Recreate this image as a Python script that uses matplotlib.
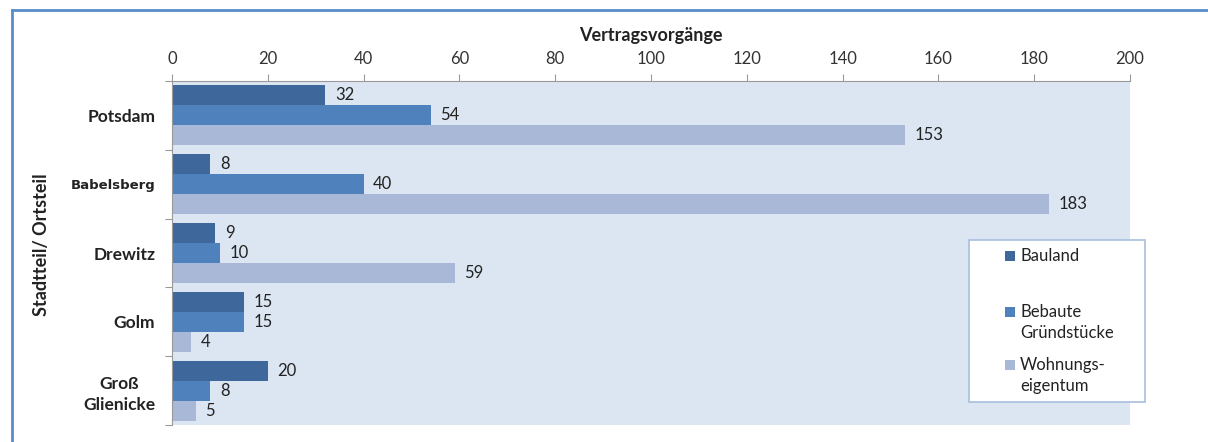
import numpy as np
import matplotlib
matplotlib.use('Agg')
import matplotlib.pyplot as plt
from matplotlib.lines import Line2D
from matplotlib.patches import Rectangle

# --- data ---
districts = ["Potsdam", "Babelsberg", "Drewitz", "Golm", "Groß\nGlienicke"]
bauland = [32, 8, 9, 15, 20]
bebaute = [54, 40, 10, 15, 8]
wohnung = [153, 183, 59, 4, 5]
series_names = ["Bauland", "Bebaute\nGründstücke", "Wohnungs-\neigentum"]
x_ticks = list(range(0, 201, 20))

colors = ['#3e689c', '#4f81bd', '#a9b8d6']
plt.rcParams['font.family'] = ['Lato', 'DejaVu Sans']

W, H = 1208, 442
fig = plt.figure(figsize=(W / 100, H / 100), dpi=100)
fig.patch.set_facecolor('white')

def fx(px):
    return px / W

def fy(py):
    return 1 - py / H

# plot area in pixel coords
x0, x1, y0, y1 = 172, 1130, 81, 425
ax = fig.add_axes([fx(x0), fy(y1), (x1 - x0) / W, (y1 - y0) / H])
ax.set_facecolor('#dce6f2')

pos = np.arange(len(districts))
bh = 0.29
for k, (vals, c) in enumerate(zip([bauland, bebaute, wohnung], colors)):
    yy = pos + (k - 1) * bh
    ax.barh(yy, vals, height=bh, color=c, edgecolor='none', zorder=2)
    for y, v in zip(yy, vals):
        ax.text(v + 2.0, y, str(v), va='center', ha='left', fontsize=12,
                color='#222222', zorder=3)

ax.set_xlim(0, 200)
ax.set_ylim(len(districts) - 0.5, -0.5)
ax.xaxis.tick_top()
ax.xaxis.set_label_position('top')
ax.set_xticks(x_ticks)
ax.set_xticklabels([str(t) for t in x_ticks], fontsize=12, color='#333333')
ax.tick_params(axis='x', direction='out', length=5, color='#999999', pad=5)

# category ticks at group borders
ax.set_yticks(np.arange(-0.5, len(districts), 1.0))
ax.set_yticklabels([])
ax.set_yticks(pos, minor=True)
ax.set_yticklabels(districts, minor=True, fontsize=12.5, fontweight='bold',
                   color='#222222', ha='right', multialignment='center',
                   linespacing=1.35)
ax.tick_params(axis='y', which='major', direction='out', length=5, color='#999999')
ax.tick_params(axis='y', which='minor', length=0, pad=12)
for lbl in ax.get_yticklabels(minor=True):
    if lbl.get_text() == "Babelsberg":
        lbl.set_fontsize(9.5)
        lbl.set_family(['DejaVu Sans'])

for side in ['right', 'bottom']:
    ax.spines[side].set_visible(False)
ax.spines['top'].set_color('#999999')
ax.spines['left'].set_color('#999999')

ax.set_xlabel("Vertragsvorgänge", fontsize=13, fontweight='bold',
              color='#222222', labelpad=7)
fig.text(fx(42), fy(245), "Stadtteil/ Ortsteil", rotation=90,
         ha='center', va='center', fontsize=13, fontweight='bold', color='#222222')

# legend box, entries aligned on the first text line as in the original
fig.add_artist(Rectangle((fx(969), fy(402)), (1145 - 969) / W, (402 - 240) / H,
                         facecolor='white', edgecolor='#a7bfdd', lw=1.2, zorder=5))
entry_y = [256, 312, 365]
line_step = 21
for name, c, ey in zip(series_names, colors, entry_y):
    fig.add_artist(Rectangle((fx(1005), fy(ey + 5)), 10 / W, 10 / H,
                             facecolor=c, edgecolor='none', zorder=6))
    for i, line in enumerate(name.split('\n')):
        fig.text(fx(1020), fy(ey + i * line_step), line, ha='left', va='center',
                 fontsize=12, color='#222222', zorder=6)

# outer frame of the chart (cropped)
fig.add_artist(Line2D([fx(12), 1], [fy(10), fy(10)], color='#5a8ccc', lw=2))
fig.add_artist(Line2D([fx(12), fx(12)], [0, fy(10)], color='#5a8ccc', lw=2))

fig.savefig("out.png", dpi=100)
